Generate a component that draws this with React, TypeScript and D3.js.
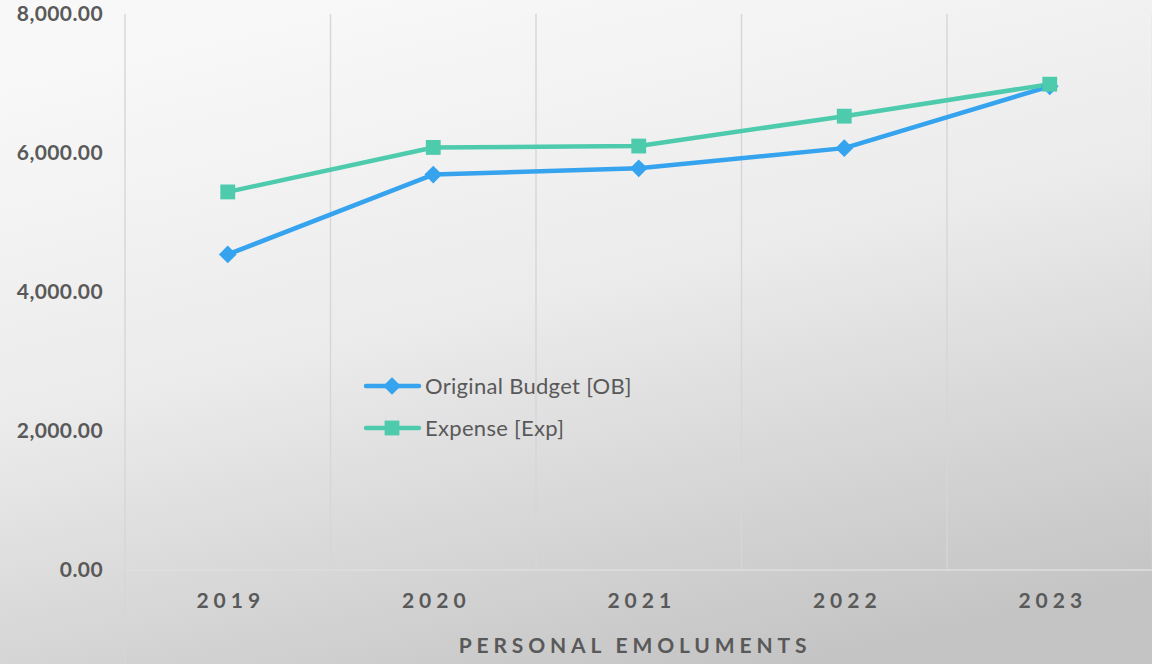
import React, { useEffect, useRef } from 'react';
import * as d3 from 'd3';

const years = ['2019', '2020', '2021', '2022', '2023'];
const originalBudget = [4540, 5690, 5780, 6070, 6960];
const expense = [5440, 6080, 6100, 6530, 6990];
const yTicks = [0, 2000, 4000, 6000, 8000];
const seriesNames = ['Original Budget [OB]', 'Expense [Exp]'];
const axisTitle = 'PERSONAL EMOLUMENTS';

const W = 1152;
const H = 664;

const App: React.FC = () => {
  const ref = useRef<SVGSVGElement>(null);

  useEffect(() => {
    const svg = d3.select(ref.current);
    svg.selectAll('*').remove();

    // background gradient
    const defs = svg.append('defs');
    const grad = defs.append('linearGradient')
      .attr('id', 'bg')
      .attr('x1', '0.3').attr('y1', '0')
      .attr('x2', '0.7').attr('y2', '1');
    grad.append('stop').attr('offset', '0%').attr('stop-color', '#f8f8f8');
    grad.append('stop').attr('offset', '45%').attr('stop-color', '#ebebeb');
    grad.append('stop').attr('offset', '100%').attr('stop-color', '#c4c4c4');
    svg.append('rect').attr('width', W).attr('height', H).attr('fill', 'url(#bg)');

    const x = d3.scaleBand().domain(years).range([125, 1152.5]);
    const y = d3.scaleLinear().domain([0, 8000]).range([570, 14]);
    const cx = (d: string) => (x(d) as number) + x.bandwidth() / 2;

    // vertical gridlines at category boundaries
    const bounds = years.map((d) => x(d) as number).concat([x.range()[1]]);
    svg.append('g').selectAll('line')
      .data(bounds)
      .enter().append('line')
      .attr('x1', (d) => d).attr('x2', (d) => d)
      .attr('y1', 14)
      .attr('y2', (d, i) => (i === 0 ? H : 570))
      .attr('stroke', '#d6d6d6')
      .attr('stroke-width', 1.4);

    // category axis line
    svg.append('line')
      .attr('x1', 125).attr('x2', W)
      .attr('y1', y(0)).attr('y2', y(0))
      .attr('stroke', '#dedede')
      .attr('stroke-width', 1.5);

    const font = 'Lato, "DejaVu Sans", sans-serif';

    // y labels
    svg.append('g').selectAll('text')
      .data(yTicks)
      .enter().append('text')
      .attr('x', 103)
      .attr('y', (d) => y(d))
      .attr('dy', '0.35em')
      .attr('text-anchor', 'end')
      .attr('font-family', font)
      .attr('font-weight', 'bold')
      .attr('font-size', 21)
      .attr('letter-spacing', 0.4)
      .attr('fill', '#595959')
      .text((d) => d3.format(',.2f')(d));

    // x labels
    svg.append('g').selectAll('text')
      .data(years)
      .enter().append('text')
      .attr('x', (d) => cx(d) + 3)
      .attr('y', 601)
      .attr('dy', '0.35em')
      .attr('text-anchor', 'middle')
      .attr('font-family', font)
      .attr('font-weight', 'bold')
      .attr('font-size', 21)
      .attr('letter-spacing', 5)
      .attr('fill', '#595959')
      .text((d) => d);

    svg.append('text')
      .attr('x', 635)
      .attr('y', 646)
      .attr('dy', '0.35em')
      .attr('text-anchor', 'middle')
      .attr('font-family', font)
      .attr('font-weight', 'bold')
      .attr('font-size', 21)
      .attr('letter-spacing', 4.85)
      .attr('fill', '#595959')
      .text(axisTitle);

    const colors = ['#35a3ee', '#4ecbac'];
    const series = [originalBudget, expense];
    const diamond = d3.symbol().type(d3.symbolDiamond2).size(200);
    const square = d3.symbol().type(d3.symbolSquare2).size(280);
    const shapes = [diamond, square];

    const line = d3.line<number>()
      .x((d, i) => cx(years[i]))
      .y((d) => y(d));

    series.forEach((vals, s) => {
      svg.append('path')
        .attr('d', line(vals))
        .attr('fill', 'none')
        .attr('stroke', colors[s])
        .attr('stroke-width', 4.5)
        .attr('stroke-linejoin', 'round');
    });
    series.forEach((vals, s) => {
      svg.append('g').selectAll('path')
        .data(vals)
        .enter().append('path')
        .attr('transform', (d, i) => `translate(${cx(years[i])},${y(d)})`)
        .attr('d', shapes[s]() as string)
        .attr('fill', colors[s]);
    });

    // legend
    const lg = svg.append('g');
    seriesNames.forEach((name, i) => {
      const ly = 386 + i * 42;
      lg.append('line')
        .attr('x1', 366).attr('x2', 419)
        .attr('y1', ly).attr('y2', ly)
        .attr('stroke', colors[i])
        .attr('stroke-width', 4.5)
        .attr('stroke-linecap', 'round');
      lg.append('path')
        .attr('transform', `translate(392,${ly})`)
        .attr('d', shapes[i]() as string)
        .attr('fill', colors[i]);
      lg.append('text')
        .attr('x', 425)
        .attr('y', ly)
        .attr('dy', '0.35em')
        .attr('font-family', font)
        .attr('font-size', 22)
        .attr('letter-spacing', 0.3)
        .attr('fill', '#595959')
        .text(name);
    });
  }, []);

  return (
    <svg
      ref={ref}
      width={W}
      height={H}
      style={{ position: 'absolute', left: 0, top: 0, display: 'block' }}
    />
  );
};

export default App;
